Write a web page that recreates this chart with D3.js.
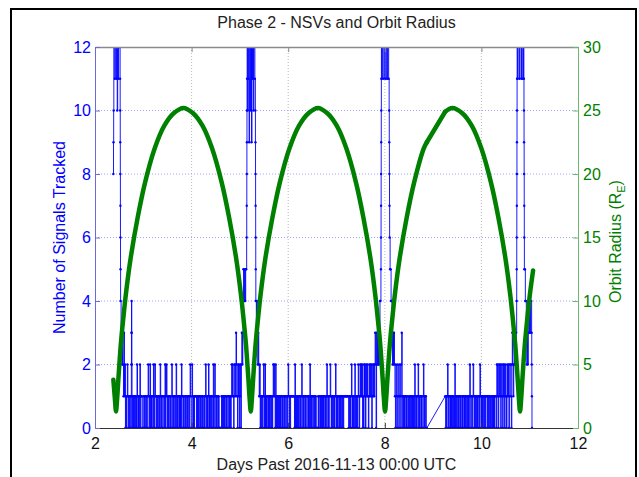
<!DOCTYPE html>
<html>
<head>
<meta charset="utf-8">
<script src="https://cdn.jsdelivr.net/npm/d3@7"></script>
<style>
  html, body { margin: 0; padding: 0; background: #fff; }
  svg { display: block; font-family: "Liberation Sans", Arial, Helvetica, sans-serif; }
</style>
</head>
<body>
<svg id="chart" width="639" height="477"></svg>
<script>
// ---- labels and ticks ----
const chartTitle = "Phase 2 - NSVs and Orbit Radius";
const xTitle = "Days Past 2016-11-13 00:00 UTC";
const yLeftTitle = "Number of Signals Tracked";
const xTicks = [2, 4, 6, 8, 10, 12];
const yLeftTicks = [0, 2, 4, 6, 8, 10, 12];
const yRightTicks = [0, 5, 10, 15, 20, 25, 30];

// ---- orbit radius (Earth radii), two passes separated by a data gap ----
const orbitDays1 = [2.38, 2.41, 2.435, 2.46, 2.485, 2.535, 2.585, 2.635, 2.735, 2.885, 3.035, 3.235, 3.435, 3.635, 3.83,
  4.025, 4.225, 4.425, 4.625, 4.775, 4.925, 5.025, 5.075, 5.125, 5.175, 5.20, 5.225,
  5.25, 5.275, 5.325, 5.375, 5.425, 5.525, 5.675, 5.825, 6.025, 6.225, 6.425, 6.615,
  6.805, 7.005, 7.205, 7.405, 7.555, 7.705, 7.805, 7.855, 7.905, 7.955, 7.98, 8.005,
  8.03, 8.055, 8.105, 8.155, 8.205, 8.305, 8.455, 8.605, 8.805, 8.87];
const orbitRadius1 = [3.8, 2.4, 1.3, 2.4, 3.9, 6.6, 8.6, 10.4, 13.3, 16.6, 19.3, 22.0, 23.8, 24.8, 25.2,
  24.8, 23.8, 22.0, 19.3, 16.6, 13.3, 10.4, 8.6, 6.6, 3.9, 2.4, 1.3,
  2.4, 3.9, 6.6, 8.6, 10.4, 13.3, 16.6, 19.3, 22.0, 23.8, 24.8, 25.2,
  24.8, 23.8, 22.0, 19.3, 16.6, 13.3, 10.4, 8.6, 6.6, 3.9, 2.4, 1.3,
  2.4, 3.9, 6.6, 8.6, 10.4, 13.3, 16.6, 19.3, 22.0, 22.5];
const orbitDays2 = [9.25, 9.40, 9.60, 9.80, 10.00, 10.20, 10.35, 10.50, 10.60, 10.65, 10.70, 10.75, 10.775, 10.80,
  10.825, 10.85, 10.90, 10.95, 11.00, 11.07];
const orbitRadius2 = [24.9, 25.2, 24.8, 23.8, 22.0, 19.3, 16.6, 13.3, 10.4, 8.6, 6.6, 3.9, 2.4, 1.3,
  2.4, 3.9, 6.6, 8.6, 10.4, 12.4];

// ---- number of signals tracked ----
// One character per 0.01-day sample (hex digit, a = 10 ... e = 14).
// A parenthesised group holds several samples taken inside one 0.01-day slot.
const nsvStep = 0.01;
const nsvPass1Start = 2.38;
const nsvPass1 = [
  "(89a)c", "dbcebdacbd", "cc(ba98765)4332321", "3120101210", "10110(1234)(321)010",
  "1011010210", "1012011100", "0101101001", "2101201011", "0210211010",
  "1101021010", "0110120121", "0101101002", "1010110120", "1011010102",
  "1101001011", "0101101210", "0210101111", "0101011010", "1101001012",
  "1010120101", "1011020121", "0101101000", "0010110101", "1010011010",
  "1012121012", "2132102120", "1202323(45)54", "5455(6789ab)cadb9", "cead9cbdac",
  "db(a98765)4343232", "1201011012", "1020101101", "0101101012", "1210201010",
  "1101011010", "0101101101", "2101011111", "1110201010", "1011010121",
  "0101101001", "1010120101", "1011010100", "0010110101", "1010110101",
  "2101011210", "1011010121", "0101101010", "1101011111", "1111100101",
  "1201010120", "1010121012", "1212010212", "0121210121", "2120121212",
  "3203232323", "44(56789ab)cbdcebd", "cebdcbecb(a987)", "6554432323", "2102101210",
  "1210231010", "1011010010", "0101101010", "1021010112", "0101101001",
  "20101100"
];
const nsvPass2Start = 9.25;
const nsvPass2 = [
  "10101", "2101101010", "1101020101", "1010110100", "1011010110",
  "0101012101", "1012101011", "0101101210", "1010110101", "1101011010",
  "0110101011", "1021201212", "0121021201", "2101212012", "2102321232",
  "323(456789ab)cbdceb", "dcebdcbc(ba9876)5", "5443232343", "4344(3210)"
];

// ---- colours ----
const nsvColor = "#0000ff";
const orbitColor = "#008000";

// ---- geometry ----
const plot = { left: 95, right: 578, top: 47, bottom: 428 };

const x = d3.scaleLinear().domain([2, 12]).range([plot.left, plot.right]);
const yL = d3.scaleLinear().domain([0, 12]).range([plot.bottom, plot.top]);
const yR = d3.scaleLinear().domain([0, 30]).range([plot.bottom, plot.top]);

function decodeSamples(start, blocks) {
  const s = blocks.join("");
  const out = [];
  let slot = 0;
  for (let i = 0; i < s.length; i++) {
    const ch = s[i];
    const t0 = start + slot * nsvStep;
    if (ch === "(") {
      const j = s.indexOf(")", i);
      const grp = s.slice(i + 1, j);
      for (let k = 0; k < grp.length; k++) {
        out.push({ t: t0 + k * nsvStep / grp.length, v: parseInt(grp[k], 16) });
      }
      i = j;
    } else {
      out.push({ t: t0, v: parseInt(ch, 16) });
    }
    slot++;
  }
  return out;
}

// Held-value polyline: each sample keeps its value until the next one.
function heldPoints(samples) {
  const pts = [];
  samples.forEach((p, i) => {
    if (i > 0) pts.push([p.t, samples[i - 1].v]);
    pts.push([p.t, p.v]);
  });
  return pts;
}

const pass1 = decodeSamples(nsvPass1Start, nsvPass1);
const pass2 = decodeSamples(nsvPass2Start, nsvPass2);
const nsvPath = heldPoints(pass1).concat(heldPoints(pass2)); // straight join across the gap
const nsvMarks = pass1.concat(pass2);

const svg = d3.select("#chart");

// page frame
svg.append("path")
  .attr("d", "M11,477 L11,9 L636,9 L636,477")
  .attr("fill", "none").attr("stroke", "#000").attr("stroke-width", 2);

svg.append("defs").append("clipPath").attr("id", "plotClip")
  .append("rect")
  .attr("x", plot.left).attr("y", plot.top)
  .attr("width", plot.right - plot.left).attr("height", plot.bottom - plot.top);

// grid
const grid = svg.append("g");
grid.selectAll("line.gx").data(xTicks.slice(1, -1)).join("line")
  .attr("x1", d => x(d)).attr("x2", d => x(d))
  .attr("y1", plot.top).attr("y2", plot.bottom)
  .attr("stroke", "#a8a8a8").attr("stroke-width", 0.8).attr("stroke-dasharray", "1,2");
grid.selectAll("line.gy").data(yLeftTicks.slice(1, -1)).join("line")
  .attr("x1", plot.left).attr("x2", plot.right)
  .attr("y1", d => yL(d)).attr("y2", d => yL(d))
  .attr("stroke", "#8c8cff").attr("stroke-width", 0.8).attr("stroke-dasharray", "1,2");

// data
const data = svg.append("g").attr("clip-path", "url(#plotClip)");

data.append("path")
  .attr("d", d3.line().x(d => x(d[0])).y(d => yL(d[1]))(nsvPath))
  .attr("fill", "none").attr("stroke", nsvColor).attr("stroke-width", 0.9);

data.selectAll("circle").data(nsvMarks).join("circle")
  .attr("cx", d => x(d.t)).attr("cy", d => yL(d.v)).attr("r", 1.2)
  .attr("fill", nsvColor);

const orbit1 = orbitDays1.map((d, i) => [d, orbitRadius1[i]]);
const orbit2 = orbitDays2.map((d, i) => [d, orbitRadius2[i]]);
const smooth = d3.line().x(d => x(d[0])).y(d => yR(d[1])).curve(d3.curveCatmullRom.alpha(0.5));
const straight = d3.line().x(d => x(d[0])).y(d => yR(d[1]));
const orbitStyle = sel => sel.attr("fill", "none").attr("stroke", orbitColor)
  .attr("stroke-width", 4.5).attr("stroke-linejoin", "round").attr("stroke-linecap", "round");
data.append("path").attr("d", smooth(orbit1)).call(orbitStyle);
data.append("path").attr("d", straight([orbit1[orbit1.length - 1], orbit2[0]])).call(orbitStyle);
data.append("path").attr("d", smooth(orbit2)).call(orbitStyle);

// axes
const fontFamily = '"Liberation Sans", Arial, Helvetica, sans-serif';
function styleAxis(g, lineColor, textColor) {
  g.attr("font-size", 16).attr("font-family", fontFamily);
  g.select(".domain").attr("stroke", lineColor);
  g.selectAll(".tick line").attr("stroke", lineColor);
  g.selectAll(".tick text").attr("fill", textColor);
}

svg.append("g").attr("transform", `translate(0,${plot.top})`)
  .call(d3.axisTop(x).tickValues(xTicks).tickSizeInner(-5).tickSizeOuter(0).tickFormat(""))
  .call(g => styleAxis(g, "#8a8a8a", "#000"))
  .call(g => g.select(".domain").attr("stroke-width", 1.4));

svg.append("g").attr("transform", `translate(0,${plot.bottom})`)
  .call(d3.axisBottom(x).tickValues(xTicks).tickSizeInner(-5).tickSizeOuter(0).tickPadding(10))
  .call(g => styleAxis(g, "#333", "#111"));

svg.append("g").attr("transform", `translate(${plot.left},0)`)
  .call(d3.axisLeft(yL).tickValues(yLeftTicks).tickSizeInner(-5).tickSizeOuter(0).tickPadding(4))
  .call(g => styleAxis(g, "#6a6ad8", nsvColor));

svg.append("g").attr("transform", `translate(${plot.right},0)`)
  .call(d3.axisRight(yR).tickValues(yRightTicks).tickSizeInner(-5).tickSizeOuter(0).tickPadding(5))
  .call(g => styleAxis(g, "#6cb86c", orbitColor));

// titles
svg.append("text")
  .attr("x", (plot.left + plot.right) / 2).attr("y", 28)
  .attr("text-anchor", "middle").attr("font-size", 16).attr("fill", "#222")
  .text(chartTitle);

svg.append("text")
  .attr("x", (plot.left + plot.right) / 2).attr("y", 470)
  .attr("text-anchor", "middle").attr("font-size", 16).attr("fill", "#222")
  .text(xTitle);

svg.append("text")
  .attr("transform", `translate(65,${(plot.top + plot.bottom) / 2}) rotate(-90)`)
  .attr("text-anchor", "middle").attr("font-size", 16).attr("fill", nsvColor)
  .text(yLeftTitle);

const rightTitle = svg.append("text")
  .attr("transform", `translate(621,${(plot.top + plot.bottom) / 2 + 4}) rotate(-90)`)
  .attr("text-anchor", "middle").attr("font-size", 16).attr("fill", orbitColor);
rightTitle.append("tspan").text("Orbit Radius (R");
rightTitle.append("tspan").attr("font-size", 11).attr("dy", 4).text("E");
rightTitle.append("tspan").attr("dy", -4).text(")");
</script>
</body>
</html>
